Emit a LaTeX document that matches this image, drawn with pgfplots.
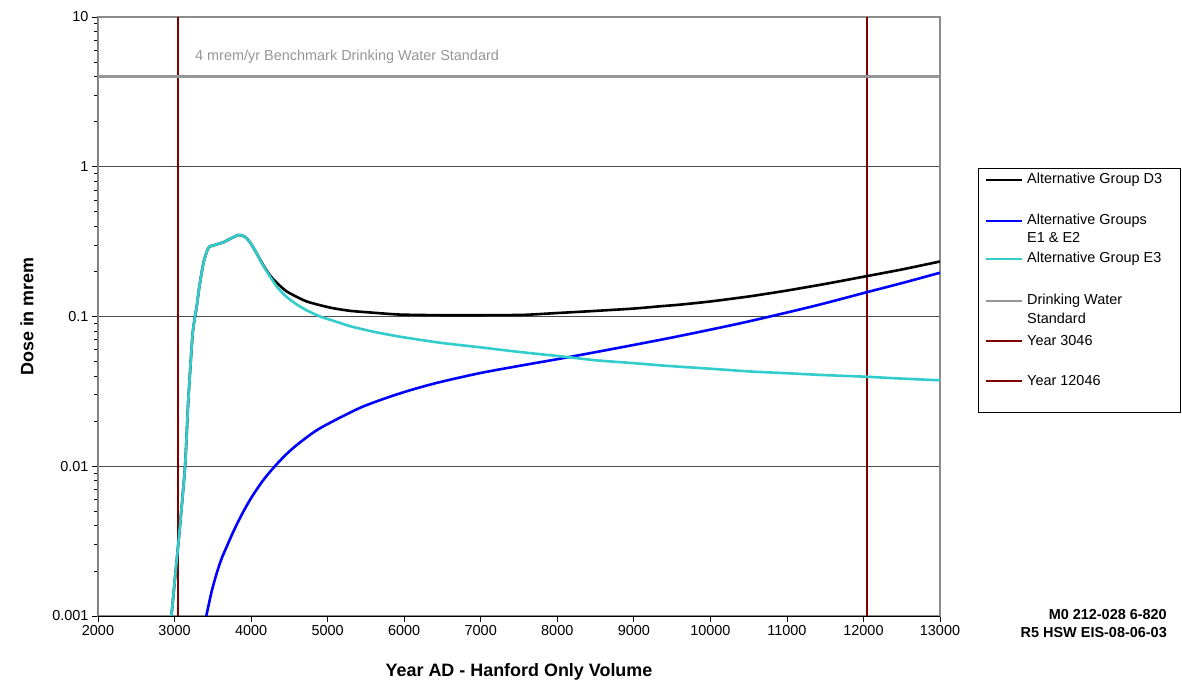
\documentclass[border=0pt]{standalone}
\usepackage{pgfplots}
\pgfplotsset{compat=1.18}
\usepackage{fontspec}
\setmainfont{Liberation Sans}
\definecolor{eturq}{RGB}{51,204,204}
\definecolor{stdgray}{RGB}{150,150,150}
\definecolor{yrred}{RGB}{128,0,0}
\begin{document}
\begin{tikzpicture}
\begin{axis}[
  scale only axis, width=842bp, height=599bp,
  at={(0,0)}, anchor=south west,
  ymode=log,
  xmin=2000, xmax=13000, ymin=0.001, ymax=10,
  xtick={2000,3000,...,13000},
  scaled x ticks=false,
  ytick={0.001,0.01,0.1,1,10},
  yticklabels={0.001,0.01,0.1,1,10},
  /pgf/number format/assume math mode=true,
  /pgf/number format/1000 sep={},
  tick align=outside, xtick pos=left, ytick pos=left,
  major tick length=6bp, minor tick length=4bp,
  tick style={black, line width=0.8bp},
  ymajorgrids, major grid style={line width=0.9bp, black!70},
  axis line style={line width=1.2bp, black!45},
  tick label style={font=\fontsize{14.5}{16}\selectfont},
  xlabel={Year AD - Hanford Only Volume},
  ylabel={Dose in mrem},
  label style={font=\bfseries\fontsize{18}{20}\selectfont},
  xlabel style={at={(axis description cs:0.5,-0.0935)}, anchor=center},
  ylabel style={at={(axis description cs:-0.0843,0.5)}, anchor=center, rotate=0},
]
% reference lines
\addplot[yrred, line width=1.2bp] coordinates {(3046,0.001)(3046,10)};
\addplot[yrred, line width=1.2bp] coordinates {(12046,0.001)(12046,10)};
\addplot[stdgray, line width=2.8bp] coordinates {(2000,4)(13000,4)};
% Alternative Group D3
\addplot[black, line width=2.6bp, smooth, tension=0.35] coordinates {
(2950,0.00095)(2963,0.00105)(3000,0.00166)(3062,0.00357)(3137,0.0099)(3180,0.0277)
(3237,0.0773)(3289,0.116)(3324,0.158)(3376,0.226)(3420,0.27)(3454,0.292)
(3551,0.303)(3637,0.313)(3750,0.335)(3833,0.350)(3900,0.345)(3942,0.333)
(4000,0.305)(4073,0.264)(4150,0.224)(4247,0.188)(4350,0.165)(4465,0.147)
(4600,0.135)(4726,0.126)(4900,0.119)(5074,0.1135)(5300,0.109)(5596,0.106)
(5945,0.103)(6468,0.102)(7000,0.102)(7553,0.1025)(8000,0.1055)(8500,0.109)
(9000,0.113)(9342,0.117)(9604,0.120)(10000,0.126)(10500,0.136)(10779,0.143)
(11000,0.149)(11500,0.165)(12042,0.186)(12500,0.206)(13000,0.233)
};
% Alternative Groups E1 & E2
\addplot[blue, line width=2.6bp, smooth, tension=0.5] coordinates {
(3405,0.00095)(3420,0.00103)(3485,0.00146)(3551,0.00193)(3615,0.00242)(3681,0.0029)
(3768,0.00366)(3855,0.00451)(3942,0.00546)(4029,0.00647)(4160,0.00809)(4290,0.00973)
(4440,0.01175)(4595,0.01384)(4850,0.0173)(5117,0.02056)(5440,0.02477)(5771,0.02864)
(6100,0.03243)(6468,0.03648)(7000,0.04198)(7500,0.04677)(8000,0.05188)(8500,0.0578)
(9000,0.0646)(9500,0.0724)(10000,0.0817)(10400,0.0903)(10779,0.1000)(11400,0.1191)
(12042,0.1452)(12500,0.167)(13000,0.196)
};
% Alternative Group E3
\addplot[eturq, line width=2.6bp, smooth, tension=0.35] coordinates {
(2950,0.00095)(2963,0.00105)(3000,0.00166)(3062,0.00357)(3137,0.0099)(3180,0.0277)
(3237,0.0773)(3289,0.116)(3324,0.158)(3376,0.226)(3420,0.27)(3454,0.292)
(3551,0.303)(3637,0.313)(3750,0.335)(3833,0.350)(3900,0.345)(3942,0.333)
(4000,0.305)(4073,0.264)(4150,0.222)(4247,0.185)(4350,0.155)(4465,0.135)
(4600,0.120)(4726,0.110)(4900,0.100)(5074,0.0937)(5300,0.086)(5596,0.0792)
(5945,0.0733)(6468,0.0668)(7000,0.0622)(7500,0.058)(8078,0.054)(8500,0.051)
(9000,0.0488)(9342,0.0472)(9604,0.0462)(10000,0.0448)(10500,0.043)(11000,0.0418)
(11500,0.0406)(12042,0.0396)(12500,0.0385)(13000,0.0375)
};
\node[anchor=west, inner sep=0pt, text=stdgray, font=\fontsize{14.5}{16}\selectfont]
  at (axis cs:3267,5.41) {4 mrem/yr Benchmark Drinking Water Standard};
\draw[black, line width=1bp] (rel axis cs:0,1) -- (rel axis cs:0,0) -- (rel axis cs:1,0);
\end{axis}
% legend
\begin{scope}[font=\fontsize{14.5}{16}\selectfont]
\draw[black, line width=0.8bp] (880bp,204bp) rectangle (1082bp,448bp);
\draw[black, line width=2.6bp] (888bp,436bp) -- (924bp,436bp);
\node[anchor=west, inner sep=0pt] at (929bp,436bp) {Alternative Group D3};
\draw[blue, line width=2.6bp] (888bp,395bp) -- (924bp,395bp);
\node[anchor=west, inner sep=0pt] at (929bp,395bp) {Alternative Groups};
\node[anchor=west, inner sep=0pt] at (929bp,378bp) {E1 \& E2};
\draw[eturq, line width=2.6bp] (888bp,357bp) -- (924bp,357bp);
\node[anchor=west, inner sep=0pt] at (929bp,357bp) {Alternative Group E3};
\draw[stdgray, line width=2.8bp] (888bp,315bp) -- (924bp,315bp);
\node[anchor=west, inner sep=0pt] at (929bp,315bp) {Drinking Water};
\node[anchor=west, inner sep=0pt] at (929bp,298bp) {Standard};
\draw[yrred, line width=1.2bp] (888bp,275bp) -- (924bp,275bp);
\node[anchor=west, inner sep=0pt] at (929bp,275bp) {Year 3046};
\draw[yrred, line width=1.2bp] (888bp,235bp) -- (924bp,235bp);
\node[anchor=west, inner sep=0pt] at (929bp,235bp) {Year 12046};
\node[anchor=east, inner sep=0pt, font=\bfseries\fontsize{14.5}{16}\selectfont] at (1069bp,1bp) {M0 212-028 6-820};
\node[anchor=east, inner sep=0pt, font=\bfseries\fontsize{14.5}{16}\selectfont] at (1069bp,-17bp) {R5 HSW EIS-08-06-03};
\end{scope}
\pgfresetboundingbox
\useasboundingbox (-98bp,-71bp) rectangle (1084bp,616bp);
\end{tikzpicture}
\end{document}
